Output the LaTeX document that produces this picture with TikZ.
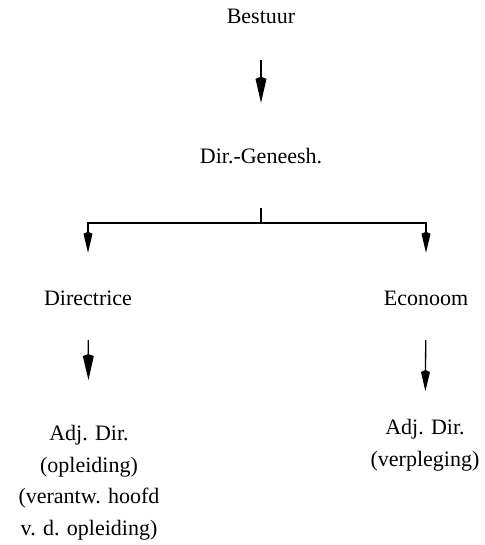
\documentclass[tikz,border=0pt]{standalone}
\usepackage{fontspec}
\setmainfont{Liberation Serif}
\usetikzlibrary{arrows.meta}
\tikzset{
box/.style={
	font=\fontsize{22}{31.5}\selectfont,
	inner sep=0pt,
	text height=16pt,
	text depth=5pt
},
multibox/.style={
	font=\fontsize{22}{31.5}\selectfont,
	inner sep=0pt,
	align=center
},
link/.style={line width=1.3pt},
bigarr/.style={link, -{Kite[length=26pt,width=11pt,inset=2pt]}},
smallarr/.style={link, -{Kite[length=21pt,width=9pt,inset=2pt]}}
}

\begin{document}
\begin{tikzpicture}[x=1pt,y=-1pt]
		\useasboundingbox (0,0) rectangle (484,545);
		\node[box] (bestuur) at (261,18) {Bestuur};
		\node[box] (dirgen) at (261,158) {Dir.-Geneesh.};
		\node[box] (directrice) at (88,300) {Directrice};
		\node[box] (econoom) at (426,300) {Econoom};
		\node[multibox] (adjopl) at (89,482.5) {Adj. Dir.\\(opleiding)\\(verantw. hoofd\\v. d. opleiding)};
		\node[multibox] (adjverpl) at (425,445) {Adj. Dir.\\(verpleging)};
		\coordinate (split) at (261,223);
		\draw[bigarr, shorten <=31.5pt, shorten >=44.5pt] (bestuur) -- (dirgen);
		\draw[link] (split) -- ++(0,-15);
		\draw[smallarr, shorten >=36.5pt] (split) -| (directrice);
		\draw[smallarr, shorten >=36.5pt] (split) -| (econoom);
		\draw[bigarr, shorten <=29.5pt, shorten >=45pt] (directrice) -- (adjopl);
		\draw[smallarr, shorten <=29.5pt, shorten >=28pt] (econoom) -- (adjverpl);
		\end{tikzpicture}
\end{document}
